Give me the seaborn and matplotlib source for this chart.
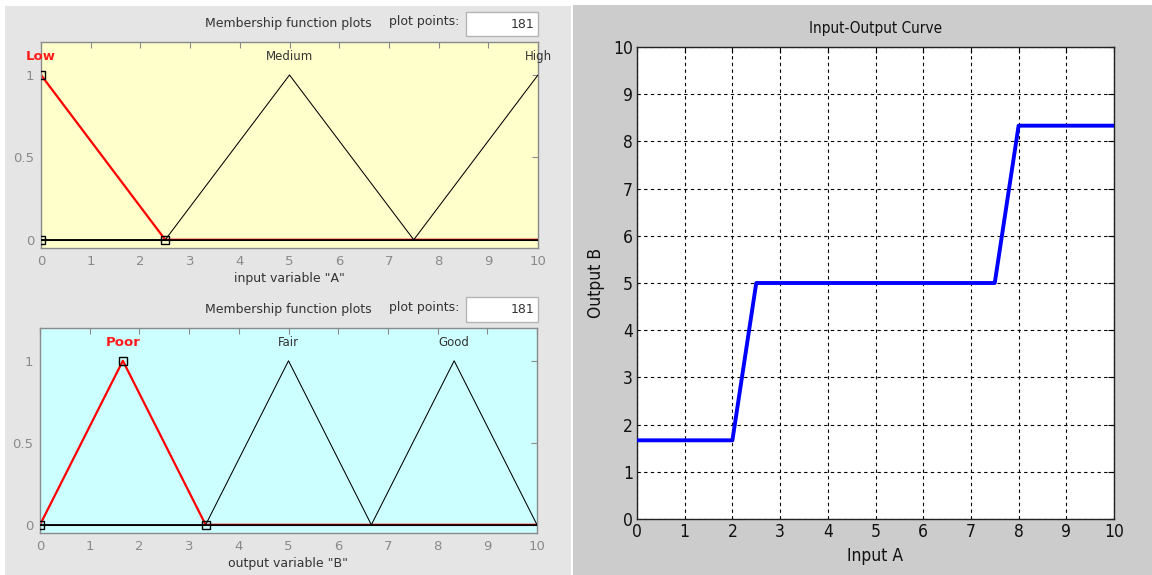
import matplotlib
matplotlib.use("Agg")
import matplotlib.pyplot as plt
import seaborn as sns
from matplotlib.patches import Rectangle
from matplotlib import font_manager

# Input variable "A": triangular membership functions, vertices on 0..10
a_names = ["Low", "Medium", "High"]
a_low_x = [0, 2.5, 10]
a_low_y = [1, 0, 0]
a_med_x = [0, 2.5, 5, 7.5, 10]
a_med_y = [0, 0, 1, 0, 0]
a_high_x = [0, 7.5, 10]
a_high_y = [0, 0, 1]
a_peaks = [0, 5, 10]
a_selected = 0
a_handles_x = [0, 0, 2.5]
a_handles_y = [1, 0, 0]

# Output variable "B"
b_names = ["Poor", "Fair", "Good"]
b_poor_x = [0, 1.667, 3.333, 10]
b_poor_y = [0, 1, 0, 0]
b_fair_x = [0, 3.333, 5, 6.667, 10]
b_fair_y = [0, 0, 1, 0, 0]
b_good_x = [0, 6.667, 8.333, 10]
b_good_y = [0, 0, 1, 0]
b_peaks = [1.667, 5, 8.333]
b_selected = 0
b_handles_x = [0, 1.667, 3.333]
b_handles_y = [0, 1, 0]

# Input-output curve of the fuzzy system
curve_x = [0, 2, 2.5, 7.5, 8, 10]
curve_y = [1.667, 1.667, 5, 5, 8.333, 8.333]

axis_ticks = list(range(0, 11))
mf_yticks = [0, 0.5, 1]
mf_yticklabels = ["0", "0.5", "1"]
plot_points = "181"

sns.set_style("white")
plt.rcParams["font.family"] = ["DejaVu Sans"]

installed = {f.name for f in font_manager.fontManager.ttflist}
if "Liberation Sans Narrow" in installed:
    NARROW = dict(family="Liberation Sans Narrow")
else:
    NARROW = dict(family="DejaVu Sans", stretch="condensed")

W, H = 1152, 575
fig = plt.figure(figsize=(W / 100, H / 100), dpi=100)
fig.patch.set_facecolor("white")


def px_box(left, top, right, bottom):
    return [left / W, 1 - bottom / H, (right - left) / W, (bottom - top) / H]


def fx(x):
    return x / W


def fy(y):
    return 1 - y / H


def fig_rect(left, top, right, bottom, face, edge="none"):
    fig.patches.append(Rectangle((fx(left), fy(bottom)), fx(right) - fx(left),
                                 fy(top) - fy(bottom), transform=fig.transFigure,
                                 facecolor=face, edgecolor=edge, lw=1, zorder=-5))


# window backgrounds
fig_rect(5, 6, 571, 575, "#e5e5e5")
fig_rect(573, 5, 1152, 575, "#cccccc")

GRAY = "#8a8a8a"
TXT = "#333333"


def header(y_title, box_top, box_bottom):
    fig.text(fx(288), fy(y_title), "Membership function plots", ha="center", va="center",
             fontsize=9, color=TXT)
    fig.text(fx(424), fy(y_title - 2), "plot points:", ha="center", va="center",
             fontsize=9, color=TXT)
    fig_rect(466, box_top, 538, box_bottom, "white", "#b5b5b5")
    fig.text(fx(534), fy((box_top + box_bottom) / 2), plot_points, ha="right", va="center",
             fontsize=9, color=TXT)


def mf_panel(ax, curves, names, peaks, selected, hx, hy, face, xlabel):
    ax.set_facecolor(face)
    for i, (x, y) in enumerate(curves):
        if i == selected:
            sns.lineplot(x=x, y=y, ax=ax, color="red", lw=1.6, estimator=None, sort=False,
                         zorder=2)
    for i, (x, y) in enumerate(curves):
        if i != selected:
            sns.lineplot(x=x, y=y, ax=ax, color="black", lw=0.75, estimator=None, sort=False,
                         zorder=3)
    # black baseline under the selected function
    sns.lineplot(x=[axis_ticks[0], axis_ticks[-1]], y=[0, 0], ax=ax, color="black", lw=0.75,
                 estimator=None, zorder=3)
    ax.plot(hx, hy, "s", mfc="none", mec="black", ms=6, mew=1, zorder=4)
    for i, (name, px) in enumerate(zip(names, peaks)):
        sel = i == selected
        ax.text(px, 1.11, name, ha="center", va="center", fontsize=9.5 if sel else 8.5,
                color="#ff1a1a" if sel else TXT, fontweight="bold" if sel else "normal",
                clip_on=False)
    ax.set_xlim(axis_ticks[0], axis_ticks[-1])
    ax.set_ylim(-0.05, 1.2)
    ax.set_xticks(axis_ticks)
    ax.set_yticks(mf_yticks)
    ax.set_yticklabels(mf_yticklabels)
    ax.tick_params(direction="in", top=True, right=True, length=4, color=GRAY,
                   labelcolor=GRAY, labelsize=9.5, pad=5)
    for s in ax.spines.values():
        s.set_color(GRAY)
        s.set_linewidth(1)
    ax.set_xlabel(xlabel, fontsize=9, color=TXT, labelpad=3)
    ax.set_ylabel("")


# input variable A
header(24, 12, 36)
ax_a = fig.add_axes(px_box(41, 42, 538, 248))
mf_panel(ax_a, [(a_low_x, a_low_y), (a_med_x, a_med_y), (a_high_x, a_high_y)],
         a_names, a_peaks, a_selected, a_handles_x, a_handles_y, "#ffffcc",
         'input variable "A"')

# output variable B
header(310, 297, 322)
ax_b = fig.add_axes(px_box(40, 328, 537, 533))
mf_panel(ax_b, [(b_poor_x, b_poor_y), (b_fair_x, b_fair_y), (b_good_x, b_good_y)],
         b_names, b_peaks, b_selected, b_handles_x, b_handles_y, "#ccffff",
         'output variable "B"')

# input-output curve
ax_c = fig.add_axes(px_box(637, 47, 1114, 519))
ax_c.set_facecolor("white")
sns.lineplot(x=curve_x, y=curve_y, ax=ax_c, color="#0000ff", lw=2.8, estimator=None,
             sort=False, zorder=3)
ax_c.set_xlim(0, 10)
ax_c.set_ylim(0, 10)
ax_c.set_xticks(axis_ticks)
ax_c.set_yticks(axis_ticks)
ax_c.grid(True, color="black", linestyle=(0, (3, 3)), lw=0.8)
ax_c.tick_params(direction="in", top=True, right=True, length=4, color="black",
                 labelcolor="black", pad=3)
for lab in ax_c.get_xticklabels() + ax_c.get_yticklabels():
    lab.set(fontsize=12.5, color="#111111", **NARROW)
for s in ax_c.spines.values():
    s.set_color("#222222")
    s.set_linewidth(1)
ax_c.set_title("Input-Output Curve", fontsize=11, color="#111111", pad=10, **NARROW)
ax_c.set_xlabel("Input A", fontsize=12.5, color="#111111", labelpad=4, **NARROW)
ax_c.set_ylabel("Output B", fontsize=12.5, color="#111111", labelpad=6, **NARROW)

fig.savefig("out.png", dpi=100)
